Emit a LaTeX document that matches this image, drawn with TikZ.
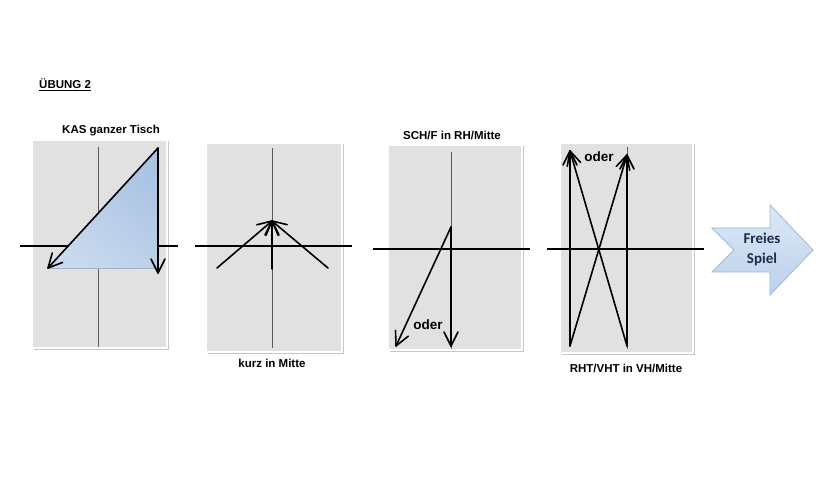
\documentclass[tikz,border=0pt]{standalone}
\usepackage{fontspec}
\setmainfont{Liberation Sans}
\newfontfamily\calibri{Carlito}
\usetikzlibrary{decorations.markings}
\definecolor{tablegray}{HTML}{E1E1E1}
\definecolor{centergray}{HTML}{5A5A5A}
\definecolor{triA}{HTML}{A9C3E3}
\definecolor{triB}{HTML}{F0F4FA}
\definecolor{triC}{HTML}{C9D9EE}
\definecolor{triedge}{HTML}{9FB4CC}
\definecolor{arrA}{HTML}{DCE8F6}
\definecolor{arrB}{HTML}{BCD1EC}
\definecolor{arredge}{HTML}{9DB8DC}
\definecolor{navy}{HTML}{1C2B47}
\tikzset{
  tablebox/.style={fill=tablegray, draw=white, line width=2pt},
  tableshadow/.style={fill=black!22},
  centerline/.style={draw=centergray, line width=0.6pt},
  netline/.style={draw=black, line width=2.2pt},
  arr/.style={draw=black, line width=1.6pt, line cap=round,
    decoration={markings, mark=at position 1 with {\draw[black, line width=1.6pt, line cap=round, line join=round] (-14pt,7pt) -- (0pt,0pt) -- (-14pt,-7pt);}},
    postaction={decorate}},
  lbl/.style={font=\fontsize{11.5}{13}\selectfont\bfseries, inner sep=0pt},
  oderlbl/.style={font=\fontsize{13.5}{15}\selectfont\bfseries, inner sep=0pt},
}
\begin{document}
\begin{tikzpicture}[x=1pt,y=-1pt]
\useasboundingbox (0,0) rectangle (820,500);
\fill[white] (0,0) rectangle (820,500);

% title
\node[lbl, anchor=west] (title) at (39,85) {\underline{ÜBUNG 2}};

% ===== Table 1 =====
\fill[tableshadow] (33.5,141.5) rectangle (168.5,349.5);
\path[tablebox] (32,140) rectangle (167,348);
\node[lbl] (lab1) at (111,131) {KAS ganzer Tisch};
\coordinate (c1t) at (98,147); \coordinate (c1b) at (98,347);
\path[centerline] (c1t) -- (c1b);
\coordinate (n1l) at (20,246); \coordinate (n1r) at (178,246);
\path[netline] (n1l) -- (n1r);
\coordinate (t1a) at (158,148); \coordinate (t1b) at (48,268); \coordinate (t1c) at (158,268);
\shade[top color=triA, middle color=triB, bottom color=triC, shading angle=-40] (t1a) -- (t1b) -- (t1c) -- cycle;
\draw[triedge, line width=0.6pt] (t1b) -- (t1c);
\coordinate (t1d) at (158,273);
\path[arr] (t1a) -- (t1b);
\path[arr] (t1a) -- (t1d);

% ===== Table 2 =====
\fill[tableshadow] (207.5,144.5) rectangle (343.5,353.5);
\path[tablebox] (206,143) rectangle (342,352);
\node[lbl] (lab2) at (272,363) {kurz in Mitte};
\coordinate (c2t) at (272,148); \coordinate (c2b) at (272,348);
\path[centerline] (c2t) -- (c2b);
\coordinate (n2l) at (195,246); \coordinate (n2r) at (352,246);
\path[netline] (n2l) -- (n2r);
\coordinate (tip2) at (272,221);
\coordinate (s2l) at (217,268); \coordinate (s2r) at (328,268); \coordinate (s2m) at (272,269);
\path[arr] (s2l) -- (tip2);
\path[arr] (s2r) -- (tip2);
\path[arr] (s2m) -- (tip2);

% ===== Table 3 =====
\fill[tableshadow] (389.5,146.5) rectangle (523.5,351.5);
\path[tablebox] (388,145) rectangle (522,350);
\node[lbl] (lab3) at (452,135) {SCH/F in RH/Mitte};
\coordinate (c3t) at (451,152); \coordinate (c3b) at (451,349);
\path[centerline] (c3t) -- (c3b);
\coordinate (n3l) at (373,249); \coordinate (n3r) at (530,249);
\path[netline] (n3l) -- (n3r);
\coordinate (s3) at (451,227);
\coordinate (e3a) at (451,346); \coordinate (e3b) at (396,346);
\path[arr] (s3) -- (e3a);
\path[arr] (s3) -- (e3b);
\node[oderlbl] (oder3) at (428,325) {oder};

% ===== Table 4 =====
\fill[tableshadow] (561.5,144.5) rectangle (694.5,354.5);
\path[tablebox] (560,143) rectangle (693,353);
\node[lbl] (lab4) at (626,368) {RHT/VHT in VH/Mitte};
\coordinate (c4t) at (627,147); \coordinate (c4b) at (627,349);
\path[centerline] (c4t) -- (c4b);
\coordinate (n4l) at (547,249); \coordinate (n4r) at (704,249);
\path[netline] (n4l) -- (n4r);
\coordinate (b4l) at (570,346); \coordinate (b4r) at (627,346);
\coordinate (t4l) at (570,151); \coordinate (t4r) at (627,155);
\path[arr] (b4l) -- (t4l);
\path[arr] (b4r) -- (t4l);
\path[arr] (b4r) -- (t4r);
\path[arr] (b4l) -- (t4r);
\node[oderlbl] (oder4) at (599,157) {oder};

% ===== Freies Spiel arrow =====
\shade[top color=arrA, bottom color=arrB, draw=arredge, line width=0.8pt]
  (712,228) -- (770,228) -- (770,205) -- (813,250) -- (770,295) -- (770,272) -- (712,272) -- (734,250) -- cycle;
\node[font=\calibri\fontsize{15}{20}\selectfont\bfseries, text=navy, align=center, inner sep=0pt] (free) at (762,249) {Freies\\Spiel};
\end{tikzpicture}
\end{document}
